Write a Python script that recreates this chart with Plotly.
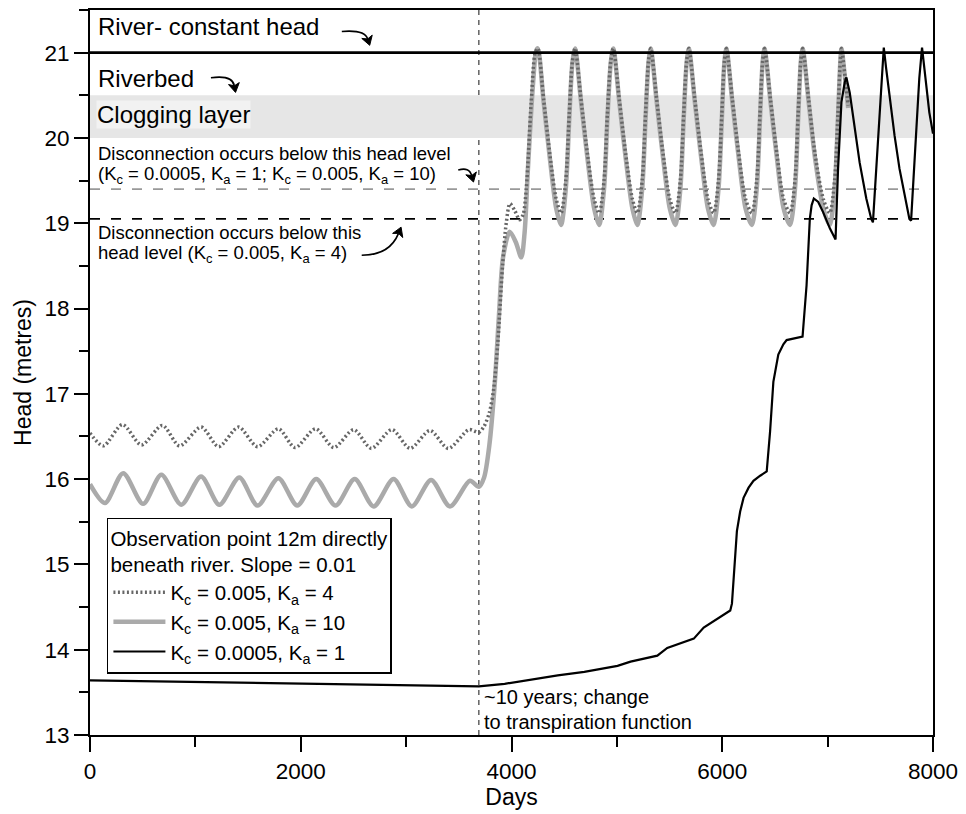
import plotly.graph_objects as go

# ---------------- data ----------------
# Kc = 0.005, Ka = 10  (thick light-grey solid)
DAYS_KA10 = [0, 142, 315, 504, 677, 866, 1054, 1228, 1417, 1590, 1788, 1967, 2147, 2330, 2512, 2692,
             2881, 3054, 3237, 3416, 3605, 3690, 3740, 3790, 3840, 3880, 3920, 3983, 4040, 4093, 4125,
             4156, 4203, 4234, 4250,
             4305, 4365, 4425, 4470, 4515, 4548, 4578, 4603,
             4660, 4722, 4785, 4832, 4878, 4910, 4942, 4966,
             5023, 5085, 5148, 5194, 5240, 5272, 5300, 5321,
             5378, 5440, 5503, 5556, 5602, 5634, 5662, 5683,
             5740, 5802, 5865, 5918, 5964, 5996, 6020, 6039,
             6096, 6158, 6222, 6281, 6327, 6358, 6383, 6401,
             6458, 6520, 6583, 6643, 6690, 6720, 6745, 6763,
             6820, 6882, 6960, 7020, 7066, 7098, 7120, 7131,
             7165, 7195]
HEAD_KA10 = [15.94, 15.72, 16.07, 15.71, 16.05, 15.70, 16.03, 15.70, 16.02, 15.69, 16.01, 15.69, 16.00, 15.69, 16.00, 15.68,
             16.00, 15.68, 15.99, 15.68, 15.98, 15.91, 16.02, 16.40, 17.10, 17.90, 18.60, 18.90, 18.78, 18.60, 18.90,
             19.64, 20.61, 21.02, 21.05,
             20.42, 19.75, 19.17, 18.98, 19.40, 20.22, 20.88, 21.05,
             20.42, 19.75, 19.17, 18.98, 19.40, 20.22, 20.88, 21.05,
             20.42, 19.75, 19.17, 18.98, 19.40, 20.22, 20.88, 21.05,
             20.42, 19.75, 19.17, 18.98, 19.40, 20.22, 20.88, 21.05,
             20.42, 19.75, 19.17, 18.98, 19.40, 20.22, 20.88, 21.05,
             20.42, 19.75, 19.17, 18.98, 19.40, 20.22, 20.88, 21.05,
             20.42, 19.75, 19.17, 18.98, 19.40, 20.22, 20.88, 21.05,
             20.42, 19.75, 19.17, 18.98, 19.40, 20.22, 20.88, 21.05,
             20.70, 20.35]

# Kc = 0.005, Ka = 4  (dark-grey dotted)
DAYS_KA4 = [0, 126, 309, 488, 687, 850, 1055, 1221, 1410, 1590, 1788, 1946, 2141, 2314, 2503, 2670,
            2865, 3038, 3227, 3400, 3596, 3690, 3740, 3790, 3830, 3870, 3915, 3950, 3985, 4030, 4077,
            4110, 4140, 4187, 4225, 4250,
            4305, 4365, 4425, 4470, 4515, 4548, 4578, 4603,
            4660, 4722, 4785, 4832, 4878, 4910, 4942, 4966,
            5023, 5085, 5148, 5194, 5240, 5272, 5300, 5321,
            5378, 5440, 5503, 5556, 5602, 5634, 5662, 5683,
            5740, 5802, 5865, 5918, 5964, 5996, 6020, 6039,
            6096, 6158, 6222, 6281, 6327, 6358, 6383, 6401,
            6458, 6520, 6583, 6643, 6690, 6720, 6745, 6763,
            6820, 6882, 6960, 7020, 7066, 7098, 7120, 7131,
            7165, 7195]
HEAD_KA4 = [16.54, 16.39, 16.64, 16.40, 16.63, 16.39, 16.61, 16.38, 16.61, 16.38, 16.59, 16.37, 16.59, 16.37, 16.58, 16.36,
            16.58, 16.36, 16.57, 16.36, 16.58, 16.55, 16.62, 16.78, 17.05, 17.60, 18.50, 19.00, 19.23, 19.15, 19.04,
            19.10, 19.40, 20.42, 21.00, 21.05,
            20.45, 19.80, 19.28, 19.12, 19.50, 20.28, 20.90, 21.05,
            20.45, 19.80, 19.28, 19.12, 19.50, 20.28, 20.90, 21.05,
            20.45, 19.80, 19.28, 19.12, 19.50, 20.28, 20.90, 21.05,
            20.45, 19.80, 19.28, 19.12, 19.50, 20.28, 20.90, 21.05,
            20.45, 19.80, 19.28, 19.12, 19.50, 20.28, 20.90, 21.05,
            20.45, 19.80, 19.28, 19.12, 19.50, 20.28, 20.90, 21.05,
            20.45, 19.80, 19.28, 19.12, 19.50, 20.28, 20.90, 21.05,
            20.45, 19.80, 19.28, 19.12, 19.50, 20.28, 20.90, 21.05,
            20.72, 20.38]

# Kc = 0.0005, Ka = 1  (thin black solid)
DAYS_KA1 = [0, 500, 1000, 1500, 2000, 2500, 3000, 3690, 3935, 4187, 4439, 4691, 4943, 5006, 5130, 5384,
            5478, 5730, 5824, 6076, 6092, 6115, 6139, 6170, 6202, 6250, 6296, 6360, 6422, 6454, 6485,
            6532, 6580, 6611, 6674, 6762, 6800, 6831, 6848, 6869, 6911, 6957, 7021, 7075, 7099, 7131,
            7162, 7178, 7210, 7257, 7304, 7367, 7414, 7430, 7470, 7505, 7533, 7556, 7587, 7635, 7682,
            7729, 7776, 7792, 7839, 7870, 7896, 7930, 7965, 8000]
HEAD_KA1 = [13.64, 13.63, 13.62, 13.61, 13.60, 13.59, 13.58, 13.57, 13.60, 13.65, 13.70, 13.74, 13.80, 13.81, 13.86, 13.93,
            14.02, 14.13, 14.26, 14.46, 14.54, 14.95, 15.39, 15.62, 15.78, 15.90, 15.98, 16.04, 16.09, 16.56, 17.14,
            17.46, 17.58, 17.63, 17.65, 17.67, 18.27, 19.05, 19.21, 19.29, 19.25, 19.13, 18.94, 18.81, 19.64, 20.42,
            20.65, 20.71, 20.53, 20.10, 19.71, 19.29, 19.05, 19.01, 19.80, 20.60, 21.06, 20.81, 20.49, 20.03, 19.64,
            19.33, 19.05, 19.03, 20.03, 20.70, 21.06, 20.70, 20.30, 20.05]

RIVER_HEAD = 21.0
CLOG_BOTTOM, CLOG_TOP = 20.0, 20.5
DISCONNECT_A = 19.40   # Kc=0.0005,Ka=1 ; Kc=0.005,Ka=10
DISCONNECT_B = 19.05   # Kc=0.005,Ka=4
CHANGE_DAY = 3690
X_RANGE = [0, 8000]
Y_RANGE = [13, 21.5]
X_TICKS = [0, 2000, 4000, 6000, 8000]
Y_TICKS = [13, 14, 15, 16, 17, 18, 19, 20, 21]

# ---------------- layout geometry ----------------
W, H = 966, 814
L, R, T, B = 90, 937, 8, 735
FONT = "Liberation Sans, Arial, Helvetica, sans-serif"


def dx(px):
    return X_RANGE[0] + (px - L) / (R - L) * (X_RANGE[1] - X_RANGE[0])


def dy(py):
    return Y_RANGE[0] + (B - py) / (B - T) * (Y_RANGE[1] - Y_RANGE[0])


fig = go.Figure()

fig.add_trace(go.Scatter(x=DAYS_KA10, y=HEAD_KA10, mode="lines",
                         line=dict(color="#aaaaaa", width=4.5, shape="spline", smoothing=0.8),
                         name="K<sub>c</sub> = 0.005, K<sub>a</sub> = 10", legendrank=2))
fig.add_trace(go.Scatter(x=DAYS_KA4, y=HEAD_KA4, mode="lines",
                         line=dict(color="#666666", width=3.5, dash="2px,2.5px", shape="spline", smoothing=0.8),
                         name="K<sub>c</sub> = 0.005, K<sub>a</sub> = 4", legendrank=1))
fig.add_trace(go.Scatter(x=DAYS_KA1, y=HEAD_KA1, mode="lines",
                         line=dict(color="black", width=2.2),
                         name="K<sub>c</sub> = 0.0005, K<sub>a</sub> = 1", legendrank=3))

shapes = []
# clogging layer band
shapes.append(dict(type="rect", xref="x", yref="y", x0=X_RANGE[0], x1=X_RANGE[1],
                   y0=CLOG_BOTTOM, y1=CLOG_TOP, fillcolor="#e6e6e6", line=dict(width=0), layer="below"))
# disconnection levels
shapes.append(dict(type="line", xref="x", yref="y", x0=0, x1=7903, y0=DISCONNECT_A, y1=DISCONNECT_A,
                   line=dict(color="#999999", width=1.8, dash="10px,11px"), layer="below"))
shapes.append(dict(type="line", xref="x", yref="y", x0=0, x1=7903, y0=DISCONNECT_B, y1=DISCONNECT_B,
                   line=dict(color="black", width=1.8, dash="10px,11px"), layer="below"))
# change of transpiration function
shapes.append(dict(type="line", xref="x", yref="paper", x0=CHANGE_DAY, x1=CHANGE_DAY, y0=0, y1=1,
                   line=dict(color="#555555", width=1.4, dash="5px,5px"), layer="below"))
# river constant head
shapes.append(dict(type="line", xref="x", yref="y", x0=X_RANGE[0], x1=X_RANGE[1], y0=RIVER_HEAD, y1=RIVER_HEAD,
                   line=dict(color="black", width=2.6), layer="above"))


def curved_arrow(p0, c, p1, head_len=9, head_w=5.5):
    """p0,c,p1 in pixels: quadratic curve with a notched arrowhead at p1 direction."""
    x0, y0 = p0
    cx, cy = c
    x1, y1 = p1
    path = f"M{dx(x0)},{dy(y0)} Q{dx(cx)},{dy(cy)} {dx(x1)},{dy(y1)}"
    shapes.append(dict(type="path", xref="x", yref="y", path=path,
                       line=dict(color="black", width=1.6), layer="above"))
    vx, vy = x1 - cx, y1 - cy
    n = (vx ** 2 + vy ** 2) ** 0.5
    ux, uy = vx / n, vy / n
    px_, py_ = -uy, ux
    tip = (x1 + ux * head_len * 0.75, y1 + uy * head_len * 0.75)
    base = (x1 - ux * head_len * 0.25, y1 - uy * head_len * 0.25)
    c1 = (base[0] + px_ * head_w, base[1] + py_ * head_w)
    c2 = (base[0] - px_ * head_w, base[1] - py_ * head_w)
    notch = (x1, y1)
    hp = (f"M{dx(c1[0])},{dy(c1[1])} L{dx(tip[0])},{dy(tip[1])} L{dx(c2[0])},{dy(c2[1])} "
          f"L{dx(notch[0])},{dy(notch[1])} Z")
    shapes.append(dict(type="path", xref="x", yref="y", path=hp, fillcolor="black",
                       line=dict(color="black", width=1), layer="above"))


curved_arrow((343, 29.5), (366, 27.5), (369, 37))
curved_arrow((211.5, 76), (233, 73), (235, 84))
curved_arrow((460, 168.5), (471, 165), (473.5, 174))
curved_arrow((363, 254), (391, 254), (400, 232))

annotations = []


def text(px, py, s, size, **kw):
    annotations.append(dict(x=dx(px), y=dy(py), xref="x", yref="y", text=s, showarrow=False,
                            xanchor="left", yanchor="middle", font=dict(size=size, color="black", family=FONT), **kw))


text(96, 25, "River- constant head", 24)
text(96, 77, "Riverbed", 24)
text(96, 113, "Clogging layer", 24, bgcolor="#f2f2f2", borderpad=0)
text(96, 152, "Disconnection occurs below this head level", 18.5)
text(96, 173.5, "(K<sub>c</sub> = 0.0005, K<sub>a</sub> = 1; K<sub>c</sub> = 0.005, K<sub>a</sub> = 10)", 18.5)
text(96, 231.5, "Disconnection occurs below this", 18.5)
text(96, 253, "head level (K<sub>c</sub> = 0.005, K<sub>a</sub> = 4)", 18.5)
text(484, 697, "~10 years; change", 20)
text(484, 722, "to transpiration function", 20)

axis_common = dict(showline=True, linecolor="black", linewidth=2, mirror=True, showgrid=False,
                   zeroline=False, ticks="outside", tickwidth=2, tickcolor="black",
                   tickfont=dict(size=22.5, color="black", family=FONT))

fig.update_xaxes(range=X_RANGE, tickvals=X_TICKS, ticklen=15,
                 minor=dict(dtick=1000, tick0=0, ticklen=10, tickwidth=2, ticks="outside", tickcolor="black", showgrid=False),
                 title=dict(text="Days", font=dict(size=23, family=FONT, color="black"), standoff=4),
                 **axis_common)
fig.update_yaxes(range=Y_RANGE, tickvals=Y_TICKS, ticklen=14,
                 minor=dict(dtick=0.5, tick0=13, ticklen=9, tickwidth=2, ticks="outside", tickcolor="black", showgrid=False),
                 title=dict(text="Head (metres)", font=dict(size=23, family=FONT, color="black"), standoff=6),
                 **axis_common)

fig.update_layout(
    width=W, height=H,
    margin=dict(l=L, r=W - R, t=T, b=H - B, pad=0),
    plot_bgcolor="white", paper_bgcolor="white",
    font=dict(family=FONT, color="black"),
    shapes=shapes, annotations=annotations,
    showlegend=True,
    legend=dict(x=(107 - L) / (R - L), y=(B - 517) / (B - T), xanchor="left", yanchor="top",
                bgcolor="white", bordercolor="black", borderwidth=1.5,
                font=dict(size=20.5, family=FONT, color="black"),
                title=dict(text="Observation point 12m directly<br>beneath river. Slope = 0.01",
                           font=dict(size=20.5, family=FONT, color="black")),
                itemwidth=52, tracegroupgap=0),
)

fig.write_html("out.html", config={"displayModeBar": False},
               post_script="document.body.style.margin='0px';document.body.style.overflow='hidden';")
